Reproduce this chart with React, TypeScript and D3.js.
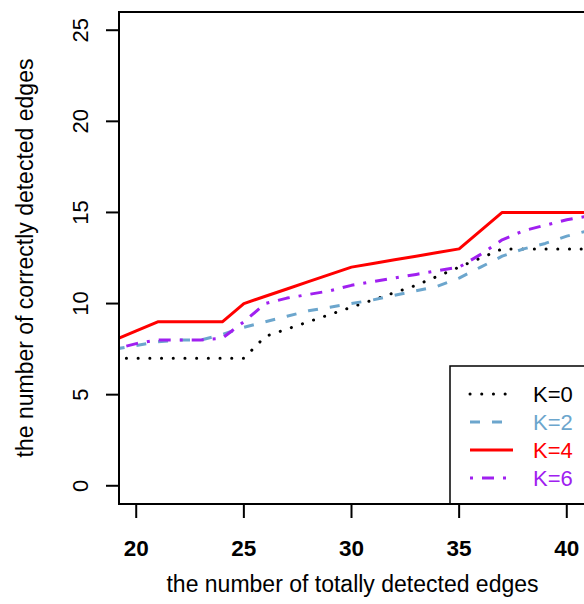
import React from 'react';
import * as d3 from 'd3';

const W = 584;
const H = 604;

// totally detected edges
const xs = [19, 20, 21, 22, 23, 24, 25, 26, 27, 28, 29, 30, 31, 32, 33, 34, 35, 36, 37, 38, 39, 40, 41, 42];
// correctly detected edges per K
const k0 = [7, 7, 7, 7, 7, 7, 7, 8.2, 8.6, 9, 9.4, 9.8, 10.2, 10.6, 11, 11.5, 12, 12.5, 13, 13, 13, 13, 13, 13];
const k2 = [7.5, 7.7, 7.9, 8, 8, 8.3, 8.7, 9, 9.3, 9.6, 9.8, 10, 10.2, 10.45, 10.7, 10.95, 11.4, 12, 12.6, 13, 13.3, 13.7, 14, 14.2];
const k4 = [8, 8.5, 9, 9, 9, 9, 10, 10.4, 10.8, 11.2, 11.6, 12, 12.2, 12.4, 12.6, 12.8, 13, 14, 15, 15, 15, 15, 15, 15];
const k6 = [7.5, 7.8, 8, 8, 8, 8.1, 9, 10, 10.3, 10.5, 10.7, 11, 11.2, 11.4, 11.6, 11.8, 12, 12.7, 13.5, 14, 14.3, 14.6, 14.8, 15];

const xTicks = [20, 25, 30, 35, 40];
const yTicks = [0, 5, 10, 15, 20, 25];

const series = [
  { name: 'K=0', values: k0, color: '#000000', dash: '0.1 11.6', cap: 'round', width: 3 },
  { name: 'K=2', values: k2, color: '#6CA6CD', dash: '10 12', cap: 'butt', width: 3 },
  { name: 'K=4', values: k4, color: '#FF0000', dash: null, cap: 'butt', width: 3 },
  { name: 'K=6', values: k6, color: '#A020F0', dash: '3 9 12 9', cap: 'butt', width: 3 },
];

const left = 119;
const right = 584;
const top = 12;
const bottom = 504;

const font = '"Liberation Sans", Arial, sans-serif';

export default function App() {
  const x = d3.scaleLinear().domain([19.2, 40.8]).range([left, right]);
  const y = d3.scaleLinear().domain([-1, 26]).range([bottom, top]);

  const line = d3
    .line<number>()
    .x((d, i) => x(xs[i]))
    .y((d) => y(d));

  const legY = [394, 422, 450, 478];

  return (
    <svg width={W} height={H} style={{ position: 'absolute', left: 0, top: 0, background: '#fff' }}>
      <defs>
        <clipPath id="plot">
          <rect x={left} y={top} width={right - left + 10} height={bottom - top} />
        </clipPath>
      </defs>
      <rect x={0} y={0} width={W} height={H} fill="#fff" />

      <g clipPath="url(#plot)">
        {series.map((s) => (
          <path
            key={s.name}
            d={line(s.values) || ''}
            fill="none"
            stroke={s.color}
            strokeWidth={s.width}
            strokeDasharray={s.dash || undefined}
            strokeLinecap={s.cap as any}
            strokeLinejoin="round"
          />
        ))}
      </g>

      {/* legend */}
      <rect x={450} y={366} width={200} height={bottom - 366} fill="#fff" stroke="#000" strokeWidth={1.5} />
      {series.map((s, i) => (
        <g key={s.name}>
          <line
            x1={470}
            x2={513}
            y1={legY[i]}
            y2={legY[i]}
            stroke={s.color}
            strokeWidth={s.width}
            strokeDasharray={s.dash || undefined}
            strokeLinecap={s.cap as any}
          />
          <text x={533} y={legY[i]} dy="0.36em" fill={s.color} fontFamily={font} fontSize={22}>
            {s.name}
          </text>
        </g>
      ))}

      {/* box */}
      <path d={`M${right + 20},${top}H${left}V${bottom}H${right + 20}`} fill="none" stroke="#000" strokeWidth={2} />

      {/* x axis */}
      {xTicks.map((t) => (
        <g key={t}>
          <line x1={x(t)} x2={x(t)} y1={bottom} y2={bottom + 14} stroke="#000" strokeWidth={2} />
          <text x={x(t)} y={556} textAnchor="middle" fontFamily={font} fontWeight="bold" fontSize={22.5}>
            {t}
          </text>
        </g>
      ))}
      <text x={(left + right) / 2 + 1} y={592} textAnchor="middle" fontFamily={font} fontSize={23}>
        the number of totally detected edges
      </text>

      {/* y axis */}
      {yTicks.map((t) => (
        <g key={t}>
          <line x1={left - 13} x2={left} y1={y(t)} y2={y(t)} stroke="#000" strokeWidth={2} />
          <text
            transform={`translate(88,${y(t)}) rotate(-90)`}
            textAnchor="middle"
            fontFamily={font}
            fontSize={22}
          >
            {t}
          </text>
        </g>
      ))}
      <text
        transform={`translate(33,${(top + bottom) / 2}) rotate(-90)`}
        textAnchor="middle"
        fontFamily={font}
        fontSize={23}
      >
        the number of correctly detected edges
      </text>
    </svg>
  );
}
